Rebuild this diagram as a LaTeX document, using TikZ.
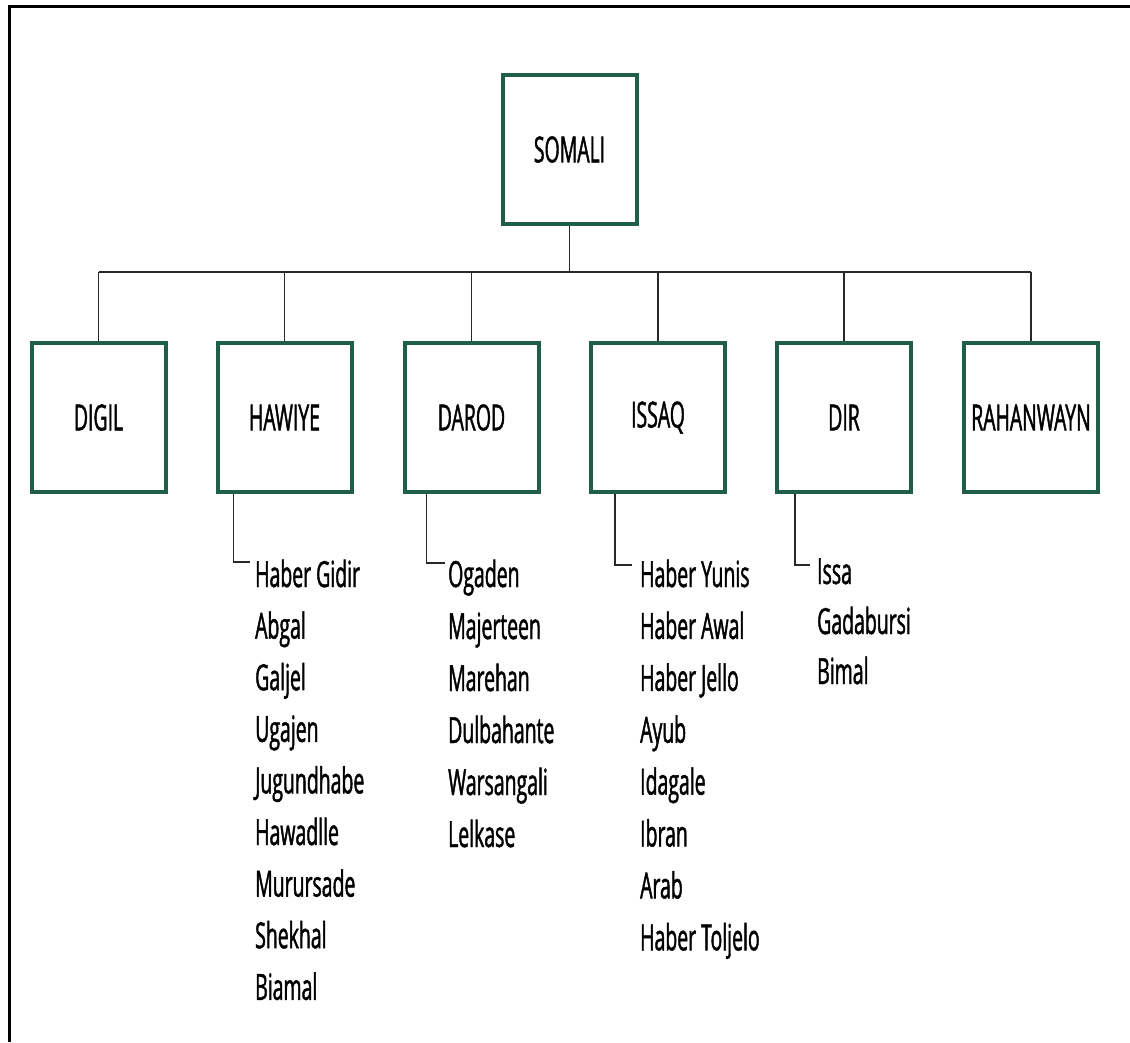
\documentclass[tikz,border=0pt]{standalone}
\usepackage{fontspec}
\setmainfont{Open Sans}[FakeStretch=0.54,FakeBold=1.2]
\usetikzlibrary{calc,positioning}
\definecolor{clangreen}{RGB}{31,94,74}
\definecolor{linegray}{RGB}{40,40,40}

\begin{document}
\begin{tikzpicture}[x=1pt,y=-1pt,
        clanbox/.style={draw=clangreen,line width=4pt,minimum width=134pt,minimum height=149pt,
          inner sep=0pt,font=\fontsize{36}{40}\selectfont},
        clan/.style={anchor=base west,inner sep=0pt,font=\fontsize{36}{40}\selectfont},
        link/.style={draw=linegray,line width=1.8pt}]
        \useasboundingbox (0,0) rectangle (1130,1042);
        \draw[line width=3pt] (9,1042) -- (9,6) -- (1130,6);
        % top and the six families
        \node[clanbox] (somali) at (569.5,149.5) {SOMALI};
        \node[clanbox] (digil) at (98.5,417.5) {DIGIL};
        \node[clanbox] (hawiye) at (284.5,417.5) {HAWIYE};
        \node[clanbox] (darod) at (471.5,417.5) {DAROD};
        \node[clanbox] (issaq) at (658,417.5) {ISSAQ};
        \node[clanbox] (dir) at (844,417.5) {DIR};
        \node[clanbox] (rahanwayn) at (1031,417.5) {RAHANWAYN};
        \coordinate (bus) at (564,272);
        \draw[link] (somali.south) -- (somali.south |- bus);
        \draw[link] (digil.north |- bus) -- (rahanwayn.north |- bus);
        \foreach \fam in {digil,hawiye,darod,issaq,dir,rahanwayn}
          \draw[link] (\fam.north) -- (\fam.north |- bus);
        % sub-clans
        \foreach \name [count=\i] in {Haber Gidir,Abgal,Galjel,Ugajen,Jugundhabe,Hawadlle,Murursade,Shekhal,Biamal}
          \node[clan] (haw\i) at (255,{587+51.6*(\i-1)}) {\name};
        \foreach \name [count=\i] in {Ogaden,Majerteen,Marehan,Dulbahante,Warsangali,Lelkase}
          \node[clan] (dar\i) at (448,{587+52*(\i-1)}) {\name};
        \foreach \name [count=\i] in {Haber Yunis,Haber Awal,Haber Jello,Ayub,Idagale,Ibran,Arab,Haber Toljelo}
          \node[clan] (iss\i) at (640,{587+51.9*(\i-1)}) {\name};
        \foreach \name [count=\i] in {Issa,Gadabursi,Bimal}
          \node[clan] (dir\i) at (817,{584+50*(\i-1)}) {\name};
        \draw[link] ([xshift=18pt]hawiye.south west) |- ([xshift=-5pt,yshift=25pt]haw1.base west);
        \draw[link] ([xshift=24pt]darod.south west) |- ([xshift=-3pt,yshift=24pt]dar1.base west);
        \draw[link] ([xshift=26pt]issaq.south west) |- ([xshift=-8pt,yshift=22pt]iss1.base west);
        \draw[link] ([xshift=20pt]dir.south west) |- ([xshift=-7pt,yshift=19pt]dir1.base west);
      \end{tikzpicture}
\end{document}
